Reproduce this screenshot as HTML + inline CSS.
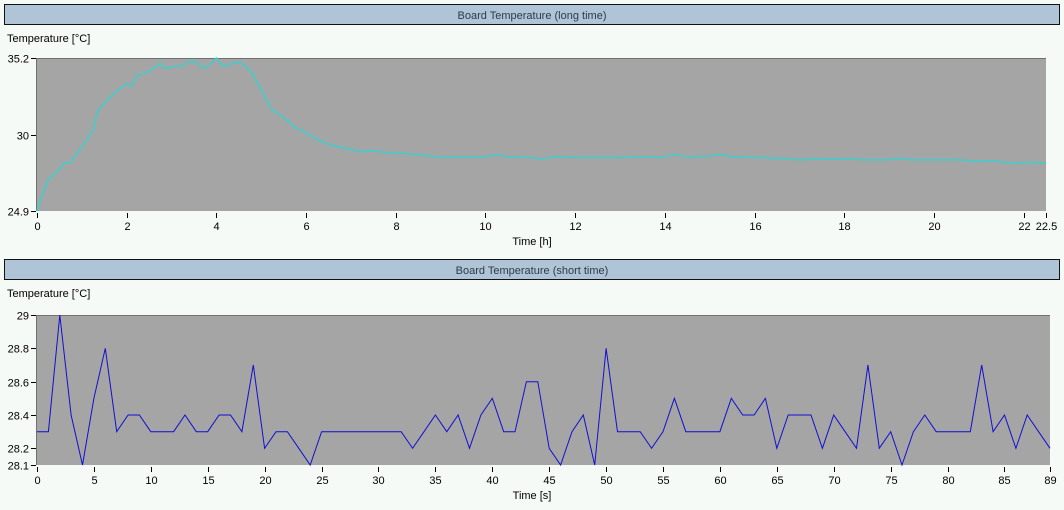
<!DOCTYPE html>
<html><head><meta charset="utf-8"><style>
html,body{margin:0;padding:0;background:#f5faf6;}
svg{display:block;font-family:"Liberation Sans",sans-serif;}
</style></head><body>
<svg id="c" width="1064" height="510" xmlns="http://www.w3.org/2000/svg">
<rect x="0" y="0" width="1064" height="510" fill="#f5faf6"/>
<g id="top"></g>
<g id="bot"></g>
</svg>
<script>
// Long-time chart data
const longHours = [0,0.1,0.25,0.5,0.6,0.75,1,1.25,1.35,1.5,1.75,2,2.1,2.25,2.5,2.75,2.85,3,3.25,3.45,3.6,3.75,4,4.15,4.5,4.75,5,5.25,5.5,5.75,6,6.25,6.5,6.75,7,7.25,7.5,7.75,8,8.25,8.5,8.75,9,9.5,10,10.25,10.5,11,11.25,11.5,12,12.5,13,13.5,14,14.25,14.5,15,15.25,15.5,16,16.5,17,17.5,18,18.5,19,19.25,19.5,20,20.5,21,21.25,21.5,22,22.25,22.5];
const longTemps = [24.9,25.85,27.0,27.7,28.1,28.2,29.2,30.35,31.6,32.2,32.9,33.5,33.3,34.05,34.3,34.85,34.5,34.6,34.7,35.05,34.8,34.5,35.2,34.65,34.95,34.4,33.05,31.7,31.2,30.55,30.15,29.7,29.4,29.2,29.05,28.9,28.95,28.85,28.8,28.75,28.7,28.6,28.55,28.55,28.55,28.7,28.55,28.5,28.4,28.55,28.5,28.5,28.5,28.55,28.55,28.7,28.55,28.6,28.7,28.55,28.5,28.45,28.35,28.4,28.4,28.35,28.35,28.45,28.35,28.35,28.35,28.25,28.3,28.2,28.1,28.2,28.1];
const longXTicks = [0,2,4,6,8,10,12,14,16,18,20,22,22.5];
const longYTicks = [24.9,30,35.2];
// Short-time chart data
const shortTemps = [28.3,28.3,29.0,28.4,28.1,28.5,28.8,28.3,28.4,28.4,28.3,28.3,28.3,28.4,28.3,28.3,28.4,28.4,28.3,28.7,28.2,28.3,28.3,28.2,28.1,28.3,28.3,28.3,28.3,28.3,28.3,28.3,28.3,28.2,28.3,28.4,28.3,28.4,28.2,28.4,28.5,28.3,28.3,28.6,28.6,28.2,28.1,28.3,28.4,28.1,28.8,28.3,28.3,28.3,28.2,28.3,28.5,28.3,28.3,28.3,28.3,28.5,28.4,28.4,28.5,28.2,28.4,28.4,28.4,28.2,28.4,28.3,28.2,28.7,28.2,28.3,28.1,28.3,28.4,28.3,28.3,28.3,28.3,28.7,28.3,28.4,28.2,28.4,28.3,28.2];
const shortXTicks = [0,5,10,15,20,25,30,35,40,45,50,55,60,65,70,75,80,85,89];
const shortYTicks = [28.1,28.2,28.4,28.6,28.8,29];

const NS="http://www.w3.org/2000/svg";
function mk(parent,tag,attrs,text){const e=document.createElementNS(NS,tag);for(const k in attrs)e.setAttribute(k,attrs[k]);if(text!==undefined)e.textContent=text;parent.appendChild(e);return e;}

function chart(g,o){
  const bar=mk(g,'rect',{x:4.5,y:o.barY+0.5,width:1055,height:20,fill:'#b0c4d8',stroke:'#111','stroke-width':1});
  
  
  const t=mk(g,'text',{x:532,y:o.barY+15,'text-anchor':'middle','font-size':11,fill:'#2c3c46'},o.title);
  
  
  const yl=mk(g,'text',{x:7,y:o.barY+38,'font-size':11,fill:'#000'},'Temperature [°C]');
  
  
  const X=v=>o.x0+(v-o.xmin)/(o.xmax-o.xmin)*(o.x1-o.x0);
  const Y=v=>o.y1-(v-o.ymin)/(o.ymax-o.ymin)*(o.y1-o.y0);
  const pa=mk(g,'rect',{x:o.x0,y:o.y0,width:o.x1-o.x0,height:o.y1-o.y0,fill:'#a5a5a5'});
  
  
  mk(g,'line',{x1:o.x0,y1:o.y0+0.5,x2:o.x1,y2:o.y0+0.5,stroke:'#707070'});
  mk(g,'line',{x1:o.x0-0.5,y1:o.y0,x2:o.x0-0.5,y2:o.y1,stroke:'#707070'});
  o.yt.forEach(v=>{const y=Math.round(Y(v))+0.5;
    mk(g,'line',{x1:o.x0-6,y1:y,x2:o.x0-1,y2:y,stroke:'#000'});
    const l=mk(g,'text',{x:o.x0-8,y:y+4,'text-anchor':'end','font-size':11,fill:'#000'},String(v));
    
    });
  o.xt.forEach(v=>{const x=Math.round(X(v))+0.5;
    mk(g,'line',{x1:x,y1:o.y1+2,x2:x,y2:o.y1+7,stroke:'#000'});
    const l=mk(g,'text',{x:x,y:o.y1+19,'text-anchor':'middle','font-size':11,fill:'#000'},String(v));
    
    });
  const xl=mk(g,'text',{x:532,y:o.y1+34,'text-anchor':'middle','font-size':11,fill:'#000'},o.xlabel);
  
  
  const pts=o.xs.map((x,i)=>X(x).toFixed(1)+','+Y(o.ys[i]).toFixed(1)).join(' ');
  const ln=mk(g,'polyline',{points:pts,fill:'none',stroke:o.color,'stroke-width':o.w});
  
  
}
chart(document.getElementById('top'),{barY:4,title:'Board Temperature (long time)',x0:37,x1:1046,y0:58,y1:211,xmin:0,xmax:22.5,ymin:24.9,ymax:35.2,xt:longXTicks,yt:longYTicks,xlabel:'Time [h]',xs:longHours,ys:longTemps,color:'#3ccfcf',w:1.5});
chart(document.getElementById('bot'),{barY:259,title:'Board Temperature (short time)',x0:37,x1:1050,y0:315,y1:465,xmin:0,xmax:89,ymin:28.1,ymax:29,xt:shortXTicks,yt:shortYTicks,xlabel:'Time [s]',xs:shortTemps.map((_,i)=>i),ys:shortTemps,color:'#1010d0',w:1});
</script>
</body></html>
